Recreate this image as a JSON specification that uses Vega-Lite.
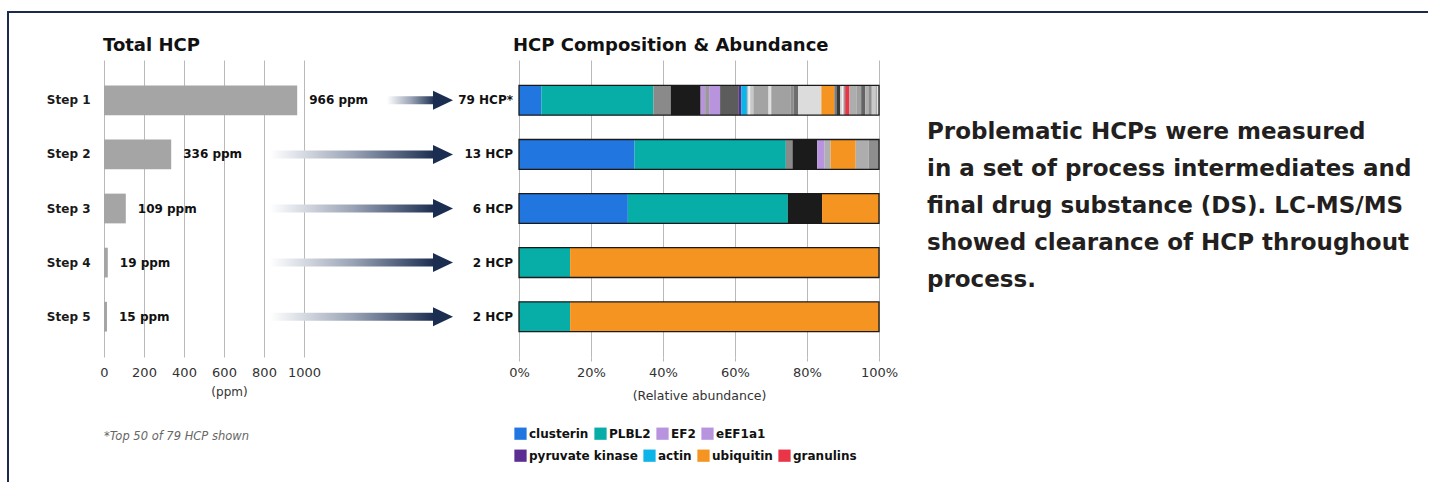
{
  "$schema": "https://vega.github.io/schema/vega-lite/v6.json",
  "padding": {"left": 7, "top": 11, "right": 0, "bottom": 0},
  "background": "#ffffff",
  "bounds": "flush",
  "spacing": 0,
  "config": {
    "font": "DejaVu Sans",
    "view": {"stroke": null}
  },
  "datasets": {
    "steps": [
      {"step": "Step 1", "ppm": 966, "label": "966 ppm", "hcp": "79 HCP*"},
      {"step": "Step 2", "ppm": 336, "label": "336 ppm", "hcp": "13 HCP"},
      {"step": "Step 3", "ppm": 109, "label": "109 ppm", "hcp": "6 HCP"},
      {"step": "Step 4", "ppm": 19, "label": "19 ppm", "hcp": "2 HCP"},
      {"step": "Step 5", "ppm": 15, "label": "15 ppm", "hcp": "2 HCP"}
    ],
    "composition": [
      {"step": "Step 1", "seg": 1, "protein": "clusterin", "pct": 6.2},
      {"step": "Step 1", "seg": 2, "protein": "PLBL2", "pct": 31.1},
      {"step": "Step 1", "seg": 3, "protein": "HCP-03", "pct": 4.8},
      {"step": "Step 1", "seg": 4, "protein": "HCP-04", "pct": 8.3},
      {"step": "Step 1", "seg": 5, "protein": "EF2", "pct": 1.25},
      {"step": "Step 1", "seg": 6, "protein": "HCP-06", "pct": 1.1},
      {"step": "Step 1", "seg": 7, "protein": "eEF1a1", "pct": 3.05},
      {"step": "Step 1", "seg": 8, "protein": "HCP-08", "pct": 5.2},
      {"step": "Step 1", "seg": 9, "protein": "pyruvate kinase", "pct": 0.65},
      {"step": "Step 1", "seg": 10, "protein": "actin", "pct": 1.6},
      {"step": "Step 1", "seg": 11, "protein": "HCP-11", "pct": 0.45},
      {"step": "Step 1", "seg": 12, "protein": "HCP-12", "pct": 0.45},
      {"step": "Step 1", "seg": 13, "protein": "HCP-13", "pct": 0.9},
      {"step": "Step 1", "seg": 14, "protein": "HCP-14", "pct": 4.2},
      {"step": "Step 1", "seg": 15, "protein": "HCP-15", "pct": 0.75},
      {"step": "Step 1", "seg": 16, "protein": "HCP-16", "pct": 5.3},
      {"step": "Step 1", "seg": 17, "protein": "HCP-17", "pct": 0.9},
      {"step": "Step 1", "seg": 18, "protein": "HCP-18", "pct": 1.3},
      {"step": "Step 1", "seg": 19, "protein": "HCP-19", "pct": 6.4},
      {"step": "Step 1", "seg": 20, "protein": "ubiquitin", "pct": 3.6},
      {"step": "Step 1", "seg": 21, "protein": "HCP-21", "pct": 0.75},
      {"step": "Step 1", "seg": 22, "protein": "HCP-22", "pct": 0.9},
      {"step": "Step 1", "seg": 23, "protein": "HCP-23", "pct": 0.45},
      {"step": "Step 1", "seg": 24, "protein": "HCP-24", "pct": 0.45},
      {"step": "Step 1", "seg": 25, "protein": "HCP-25", "pct": 0.45},
      {"step": "Step 1", "seg": 26, "protein": "granulins", "pct": 1.2},
      {"step": "Step 1", "seg": 27, "protein": "HCP-27", "pct": 2.05},
      {"step": "Step 1", "seg": 28, "protein": "HCP-28", "pct": 1.2},
      {"step": "Step 1", "seg": 29, "protein": "HCP-29", "pct": 1.1},
      {"step": "Step 1", "seg": 30, "protein": "HCP-30", "pct": 0.9},
      {"step": "Step 1", "seg": 31, "protein": "HCP-31", "pct": 0.95},
      {"step": "Step 1", "seg": 32, "protein": "HCP-32", "pct": 1.0},
      {"step": "Step 1", "seg": 33, "protein": "HCP-33", "pct": 0.55},
      {"step": "Step 1", "seg": 34, "protein": "HCP-34", "pct": 0.45},
      {"step": "Step 2", "seg": 1, "protein": "clusterin", "pct": 32.0},
      {"step": "Step 2", "seg": 2, "protein": "PLBL2", "pct": 41.9},
      {"step": "Step 2", "seg": 3, "protein": "HCP-03", "pct": 1.85},
      {"step": "Step 2", "seg": 4, "protein": "HCP-04", "pct": 6.85},
      {"step": "Step 2", "seg": 5, "protein": "EF2", "pct": 2.05},
      {"step": "Step 2", "seg": 6, "protein": "HCP-30", "pct": 1.65},
      {"step": "Step 2", "seg": 7, "protein": "ubiquitin", "pct": 6.95},
      {"step": "Step 2", "seg": 8, "protein": "HCP-27", "pct": 3.6},
      {"step": "Step 2", "seg": 9, "protein": "HCP-31", "pct": 2.85},
      {"step": "Step 3", "seg": 1, "protein": "clusterin", "pct": 30.2},
      {"step": "Step 3", "seg": 2, "protein": "PLBL2", "pct": 44.4},
      {"step": "Step 3", "seg": 3, "protein": "HCP-04", "pct": 9.5},
      {"step": "Step 3", "seg": 4, "protein": "ubiquitin", "pct": 15.8},
      {"step": "Step 4", "seg": 1, "protein": "PLBL2", "pct": 14.2},
      {"step": "Step 4", "seg": 2, "protein": "ubiquitin", "pct": 85.8},
      {"step": "Step 5", "seg": 1, "protein": "PLBL2", "pct": 14.2},
      {"step": "Step 5", "seg": 2, "protein": "ubiquitin", "pct": 85.8}
    ],
    "paragraph": [
      {"text": "Problematic HCPs were measured\nin a set of process intermediates and\nfinal drug substance (DS). LC-MS/MS\nshowed clearance of HCP throughout\nprocess."}
    ]
  },
  "resolve": {"scale": {"color": "independent", "fill": "independent"}, "legend": {"color": "independent", "fill": "independent"}},
  "hconcat": [
    {
      "width": 2,
      "height": 471,
      "view": {"fill": "#1c2b4b", "stroke": null},
      "data": {"values": []},
      "mark": "point"
    },
    {
      "bounds": "flush",
      "spacing": 47,
      "resolve": {"scale": {"color": "independent", "fill": "independent"}, "legend": {"color": "independent", "fill": "independent"}},
      "vconcat": [
        {
          "width": 1419,
          "height": 2,
          "view": {"fill": "#1c2b4b", "stroke": null},
          "data": {"values": []},
          "mark": "point"
        },
        {
          "bounds": "flush",
          "spacing": 20,
          "resolve": {"scale": {"color": "independent", "fill": "independent"}, "legend": {"color": "independent", "fill": "independent"}},
          "hconcat": [
            {
              "width": 75,
              "height": 297,
              "data": {"values": []},
              "mark": "point",
              "title": {
                "text": "*Top 50 of 79 HCP shown",
                "orient": "bottom",
                "anchor": "start",
                "frame": "group",
                "dx": 95,
                "offset": 74,
                "fontSize": 11.5,
                "fontStyle": "italic",
                "fontWeight": "normal",
                "color": "#666666"
              }
            },
            {
              "width": 395,
              "height": 297,
              "data": {"name": "steps"},
              "title": {
                "text": "Total HCP",
                "anchor": "start",
                "frame": "group",
                "fontSize": 18,
                "fontWeight": "bold",
                "color": "#111111",
                "offset": 5,
                "dx": -1
              },
              "encoding": {
                "y": {
                  "field": "step",
                  "type": "nominal",
                  "scale": {"paddingInner": 0.45, "paddingOuter": 0.47},
                  "axis": {
                    "title": null,
                    "domain": false,
                    "ticks": false,
                    "labelPadding": 14,
                    "labelFontSize": 12,
                    "labelFontWeight": "bold",
                    "labelColor": "#1a1a1a"
                  }
                }
              },
              "layer": [
                {
                  "mark": {"type": "bar", "color": "#a5a5a5"},
                  "encoding": {
                    "x": {
                      "field": "ppm",
                      "type": "quantitative",
                      "scale": {"domain": [0, 1975], "nice": false},
                      "axis": {
                        "values": [0, 200, 400, 600, 800, 1000],
                        "format": "d",
                        "grid": true,
                        "gridColor": "#b9b9b9",
                        "domain": false,
                        "ticks": false,
                        "labelFlush": false,
                        "labelFontSize": 13,
                        "labelColor": "#333333",
                        "labelPadding": 9,
                        "title": "(ppm)",
                        "titleFontSize": 12,
                        "titleFontWeight": "normal",
                        "titleColor": "#333333",
                        "titlePadding": 7,
                        "titleX": 125
                      }
                    }
                  }
                },
                {
                  "mark": {"type": "text", "align": "left", "baseline": "middle", "dx": 12, "fontSize": 12, "fontWeight": "bold", "color": "#111111"},
                  "encoding": {
                    "x": {"field": "ppm", "type": "quantitative"},
                    "text": {"field": "label"}
                  }
                },
                {
                  "transform": [{"filter": "datum.step !== 'Step 1'"}],
                  "mark": {
                    "type": "bar",
                    "size": 8,
                    "color": {
                      "gradient": "linear",
                      "x1": 0, "y1": 0, "x2": 1, "y2": 0,
                      "stops": [
                        {"offset": 0, "color": "#ffffff"},
                        {"offset": 0.5, "color": "#9aa4b6"},
                        {"offset": 1, "color": "#1b2d50"}
                      ]
                    }
                  },
                  "encoding": {"x": {"datum": 830}, "x2": {"datum": 1655}}
                },
                {
                  "transform": [{"filter": "datum.step === 'Step 1'"}],
                  "mark": {
                    "type": "bar",
                    "size": 8,
                    "color": {
                      "gradient": "linear",
                      "x1": 0, "y1": 0, "x2": 1, "y2": 0,
                      "stops": [
                        {"offset": 0, "color": "#ffffff"},
                        {"offset": 0.5, "color": "#9aa4b6"},
                        {"offset": 1, "color": "#1b2d50"}
                      ]
                    }
                  },
                  "encoding": {"x": {"datum": 1415}, "x2": {"datum": 1655}}
                },
                {
                  "mark": {"type": "point", "shape": "M-1,-0.95L1,0L-1,0.95Z", "size": 400, "filled": true, "color": "#1b2d50", "opacity": 1, "strokeWidth": 0},
                  "encoding": {"x": {"datum": 1695}}
                }
              ]
            },
            {
              "width": 360,
              "height": 297,
              "title": {
                "text": "HCP Composition & Abundance",
                "anchor": "start",
                "frame": "group",
                "fontSize": 18,
                "fontWeight": "bold",
                "color": "#111111",
                "offset": 5,
                "dx": -6
              },
              "layer": [
                {
                  "data": {"name": "composition"},
                  "mark": {"type": "bar", "strokeWidth": 0},
                  "encoding": {
                    "y": {
                      "field": "step",
                      "type": "nominal",
                      "scale": {"paddingInner": 0.45, "paddingOuter": 0.47},
                      "axis": null
                    },
                    "x": {
                      "field": "pct",
                      "type": "quantitative",
                      "stack": "normalize",
                      "scale": {"domain": [0, 1], "nice": false},
                      "axis": {
                        "values": [0, 0.2, 0.4, 0.6, 0.8, 1],
                        "format": ".0%",
                        "grid": true,
                        "gridColor": "#b9b9b9",
                        "domain": false,
                        "ticks": true,
                        "tickSize": 4,
                        "tickColor": "#b9b9b9",
                        "labelFlush": false,
                        "labelFontSize": 13,
                        "labelColor": "#333333",
                        "labelPadding": 5,
                        "title": "(Relative abundance)",
                        "titleFontSize": 12.5,
                        "titleFontWeight": "normal",
                        "titleColor": "#333333",
                        "titlePadding": 10
                      }
                    },
                    "color": {
                      "field": "protein",
                      "type": "nominal",
                      "scale": {
                        "domain": ["clusterin", "PLBL2", "EF2", "eEF1a1", "pyruvate kinase", "actin", "ubiquitin", "granulins",
                          "HCP-03", "HCP-04", "HCP-06", "HCP-08", "HCP-11", "HCP-12", "HCP-13", "HCP-14", "HCP-15", "HCP-16", "HCP-17", "HCP-18", "HCP-19",
                          "HCP-21", "HCP-22", "HCP-23", "HCP-24", "HCP-25", "HCP-27", "HCP-28", "HCP-29", "HCP-30", "HCP-31", "HCP-32", "HCP-33", "HCP-34"],
                        "range": ["#2176df", "#07aea7", "#b994de", "#b994de", "#5c2e91", "#0db4e8", "#f59421", "#ea3447",
                          "#8a8a8a", "#1b1b1b", "#9a9a9a", "#5c5c5c", "#bdbdbd", "#ededed", "#c8c8c8", "#a3a3a3", "#e0e0e0", "#a1a1a1", "#8c8c8c", "#6e6e6e", "#dcdcdc",
                          "#7a7a7a", "#3a3a3a", "#cfcfcf", "#f2f2f2", "#9a9a9a", "#adadad", "#a0a0a0", "#646464", "#b0b0b0", "#8e8e8e", "#c9c9c9", "#ababab", "#e5e5e5"]
                      },
                      "legend": {
                        "values": ["clusterin", "PLBL2", "EF2", "eEF1a1"],
                        "title": null,
                        "orient": "none",
                        "legendX": -5,
                        "legendY": 367,
                        "direction": "horizontal",
                        "columnPadding": 5,
                        "symbolType": "square",
                        "symbolSize": 150,
                        "symbolStrokeWidth": 0,
                        "labelOffset": 2,
                        "labelFontSize": 12,
                        "labelFontWeight": "bold",
                        "labelColor": "#111111"
                      }
                    },
                    "order": {"field": "seg", "type": "quantitative"}
                  }
                },
                {
                  "data": {"name": "composition"},
                  "transform": [{"filter": "datum.seg === 9 || datum.seg === 10 || datum.seg === 20 || datum.seg === 26"}, {"filter": "datum.step === 'Step 1'"}],
                  "mark": {"type": "bar", "opacity": 0},
                  "encoding": {
                    "y": {"field": "step", "type": "nominal"},
                    "x": {"datum": 0},
                    "x2": {"datum": 0},
                    "fill": {
                      "field": "protein",
                      "type": "nominal",
                      "scale": {
                        "domain": ["pyruvate kinase", "actin", "ubiquitin", "granulins"],
                        "range": ["#5c2e91", "#0db4e8", "#f59421", "#ea3447"]
                      },
                      "legend": {
                        "title": null,
                        "orient": "none",
                        "legendX": -5,
                        "legendY": 389,
                        "direction": "horizontal",
                        "columnPadding": 5,
                        "symbolType": "square",
                        "symbolSize": 150,
                        "symbolStrokeWidth": 0,
                        "symbolOpacity": 1,
                        "labelOffset": 2,
                        "labelFontSize": 12,
                        "labelFontWeight": "bold",
                        "labelColor": "#111111"
                      }
                    }
                  }
                },
                {
                  "data": {"name": "steps"},
                  "mark": {"type": "bar", "filled": false, "stroke": "#1a1a1a", "strokeWidth": 1.3},
                  "encoding": {
                    "y": {"field": "step", "type": "nominal"},
                    "x": {"datum": 0},
                    "x2": {"datum": 1}
                  }
                },
                {
                  "data": {"name": "steps"},
                  "mark": {"type": "text", "align": "right", "baseline": "middle", "dx": -6, "fontSize": 12, "fontWeight": "bold", "color": "#111111"},
                  "encoding": {
                    "y": {"field": "step", "type": "nominal"},
                    "x": {"datum": 0},
                    "text": {"field": "hcp"}
                  }
                }
              ]
            },
            {
              "width": 56,
              "height": 297,
              "data": {"name": "paragraph"},
              "mark": {"type": "text", "align": "left", "baseline": "middle", "lineBreak": "\n", "lineHeight": 37, "fontSize": 23, "fontWeight": "bold", "color": "#231f20", "dy": -77},
              "encoding": {"text": {"field": "text"}}
            }
          ]
        }
      ]
    }
  ]
}
